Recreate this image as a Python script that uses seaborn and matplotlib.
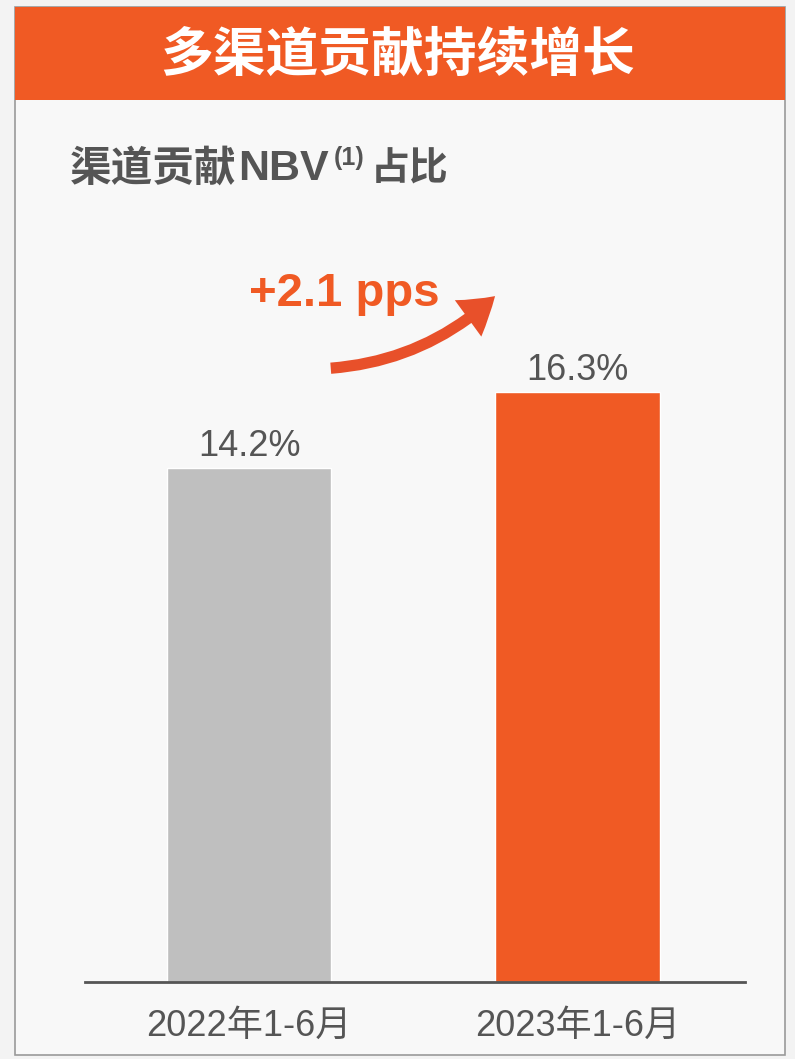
#!/usr/bin/env python3
"""Channel NBV contribution share, H1 2022 vs H1 2023."""

import matplotlib as mpl
import matplotlib.pyplot as plt
import pandas as pd
import seaborn as sns
from matplotlib.patches import FancyArrowPatch, Rectangle

periods = ["2022年1-6月", "2023年1-6月"]
share_pct = [14.2, 16.3]
bar_colors = ["#BFBFBF", "#F05A24"]
title_text = "多渠道贡献持续增长"
delta_text = "+2.1 pps"

ORANGE = "#F05A24"
TEXT_GREY = "#555555"

sns.set_theme(style="white")
mpl.rcParams["font.family"] = ["Liberation Sans", "Noto Sans CJK SC", "DejaVu Sans"]

df = pd.DataFrame({"period": periods, "share": share_pct})

fig = plt.figure(figsize=(7.95, 10.59), dpi=100, facecolor="#F3F3F3")

# panel frame and header bar
fig.patches.append(Rectangle((15 / 795, 4 / 1059), 770 / 795, 1048 / 1059,
                             transform=fig.transFigure, facecolor="#F8F8F8",
                             edgecolor="#9A9A9A", lw=1.2, zorder=-3))
fig.patches.append(Rectangle((15 / 795, 1 - 100 / 1059), 770 / 795, 93 / 1059,
                             transform=fig.transFigure, facecolor=ORANGE,
                             edgecolor="none", zorder=-2))
fig.text(0.5, 1 - 55 / 1059, title_text, color="white", fontsize=38,
         fontweight="bold", ha="center", va="center",
         family=["Noto Sans CJK SC"])

ax = fig.add_axes([85 / 795, 77 / 1059, 660 / 795, 762 / 1059])
ax.set_facecolor("none")
sns.barplot(data=df, x="period", y="share", hue="period", palette=bar_colors,
            width=0.5, legend=False, ax=ax, saturation=1)
ax.set_xlim(-0.5, 1.51)
ax.set_ylim(0, 21.05)
ax.set_yticks([])
ax.set_xlabel("")
ax.set_ylabel("")
for side in ["top", "right", "left"]:
    ax.spines[side].set_visible(False)
ax.spines["bottom"].set_color("#555555")
ax.spines["bottom"].set_linewidth(2)
ax.tick_params(axis="x", length=0, pad=19, labelsize=26, labelcolor=TEXT_GREY)

for i, v in enumerate(share_pct):
    ax.text(i, v + 0.33, f"{v}%", ha="center", va="baseline", fontsize=26,
            color=TEXT_GREY)

# subtitle pieces, chained left to right
y_sub = 1 - 169 / 1059
t1 = fig.text(70 / 795, y_sub, "渠道贡献", color=TEXT_GREY, fontsize=30,
              fontweight="bold", va="center", family=["Noto Sans CJK SC"])
t2 = ax.annotate("NBV", xy=(1, 0.5), xycoords=t1, xytext=(1, 0),
                 textcoords="offset points", color=TEXT_GREY, fontsize=31,
                 fontweight="bold", va="center", ha="left",
                 family=["Liberation Sans"], annotation_clip=False)
t3 = ax.annotate("(1)", xy=(1, 0.5), xycoords=t2, xytext=(4, 8),
                 textcoords="offset points", color=TEXT_GREY, fontsize=18,
                 fontweight="bold", va="center", ha="left",
                 family=["Liberation Sans"], annotation_clip=False)
t4 = ax.annotate("占比", xy=(1, 0.5), xycoords=t3, xytext=(4, -8),
                 textcoords="offset points", color=TEXT_GREY, fontsize=28,
                 fontweight="bold", va="center", ha="left",
                 family=["Noto Sans CJK SC"], annotation_clip=False)

# growth arrow between the bars
arrow = FancyArrowPatch((0.24, share_pct[0] + 2.75), (0.755, share_pct[1] + 2.7),
                        connectionstyle="arc3,rad=0.18",
                        arrowstyle="simple,head_width=1.8,head_length=1.4,tail_width=0.45",
                        mutation_scale=18, color="#E8502A", lw=0, zorder=5)
ax.add_patch(arrow)
ax.text(0.29, 19.0, delta_text, color=ORANGE, fontsize=34, fontweight="bold",
        ha="center", va="center")

fig.savefig("out.png", dpi=100, facecolor=fig.get_facecolor())
